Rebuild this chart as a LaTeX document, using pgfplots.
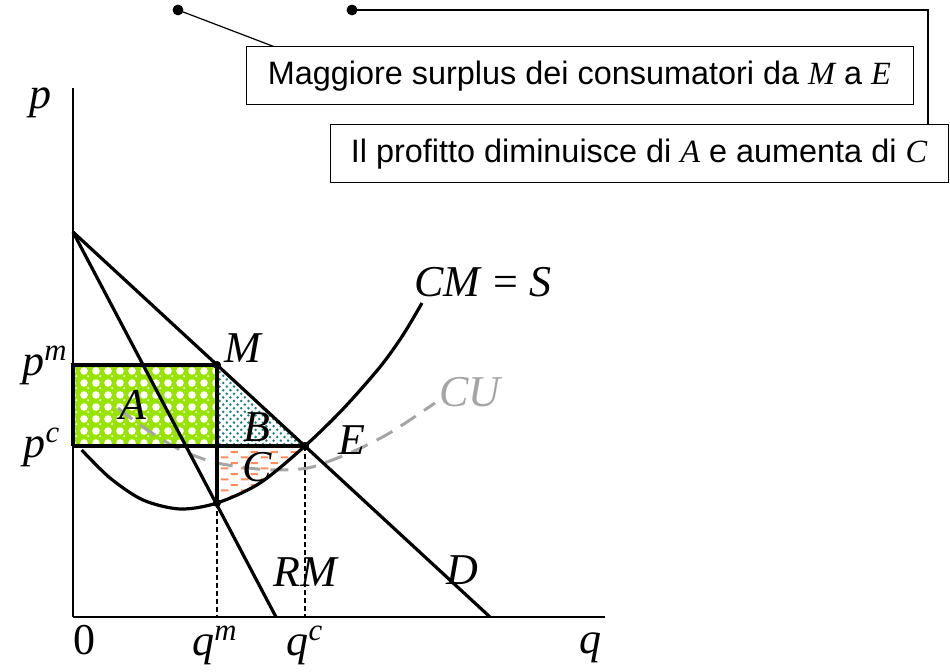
\documentclass[border=0pt]{standalone}
\usepackage{pgfplots}
\pgfplotsset{compat=1.18}
\usepgfplotslibrary{fillbetween}
\usetikzlibrary{patterns}
\usepackage{fontspec}
\setmainfont{Liberation Serif}
\newfontfamily\sansf{Liberation Sans}
\definecolor{agreen}{RGB}{150,228,0}
\definecolor{tealc}{RGB}{30,130,130}
\definecolor{orangec}{RGB}{255,140,90}
\definecolor{cugray}{RGB}{165,165,165}
\pgfdeclarepatternformonly{gaps}{\pgfqpoint{-2pt}{-2pt}}{\pgfqpoint{2pt}{2pt}}{\pgfqpoint{6pt}{6pt}}{\pgfpathcircle{\pgfpointorigin}{1.9pt}\pgfusepath{fill}}
\pgfdeclarepatternformonly{hl}{\pgfqpoint{0pt}{0pt}}{\pgfqpoint{6pt}{6pt}}{\pgfqpoint{6pt}{6pt}}{\pgfpathcircle{\pgfqpoint{2.3pt}{3.7pt}}{0.7pt}\pgfusepath{fill}}
\pgfdeclarepatternformonly{tdots}{\pgfqpoint{-0.8pt}{-0.8pt}}{\pgfqpoint{2.6pt}{2.6pt}}{\pgfqpoint{3.6pt}{3.6pt}}{\pgfpathcircle{\pgfpointorigin}{0.7pt}\pgfpathcircle{\pgfqpoint{1.8pt}{1.8pt}}{0.7pt}\pgfusepath{fill}}
\pgfdeclarepatternformonly{hdash}{\pgfpointorigin}{\pgfqpoint{10pt}{5.6pt}}{\pgfqpoint{10pt}{5.6pt}}{\pgfsetlinewidth{1.1pt}\pgfpathmoveto{\pgfqpoint{0.5pt}{1.4pt}}\pgfpathlineto{\pgfqpoint{4.3pt}{1.4pt}}\pgfpathmoveto{\pgfqpoint{5.5pt}{4.2pt}}\pgfpathlineto{\pgfqpoint{9.3pt}{4.2pt}}\pgfusepath{stroke}}
\newcommand{\lab}{\fontsize{22}{26}\selectfont}
\begin{document}
\begin{tikzpicture}
\begin{axis}[at={(0pt,0pt)}, anchor=south west, scale only axis,
  width=266pt, height=264.5pt, xmin=0, xmax=532, ymin=0, ymax=529,
  axis lines=left, axis line style={line width=1pt,-},
  xtick=\empty, ytick=\empty, clip=false]
% area A
\addplot[draw=none, fill=agreen] coordinates {(0,171) (144,171) (144,252) (0,252)} --cycle;
\addplot[draw=none, pattern=gaps, pattern color=white] coordinates {(0,171) (144,171) (144,252) (0,252)} --cycle;
\addplot[draw=none, pattern=hl, pattern color=white!80!agreen] coordinates {(0,171) (144,171) (144,252) (0,252)} --cycle;
% area B
\addplot[draw=none, pattern=tdots, pattern color=tealc] coordinates {(144,252) (144,171) (232,171)} --cycle;
% area C
\addplot[name path=mcA, draw=none, smooth] coordinates {(8.7,167) (37,139) (70,117) (107,108) (144,114) (187,134) (232,171) (270,208) (307,250) (330,282) (349,314)};
\addplot[name path=pcA, draw=none] coordinates {(144,171) (232,171)};
\addplot[draw=none, pattern=hdash, pattern color=orangec] fill between[of=mcA and pcA, soft clip={domain=144:232}];
% CU
\addplot[smooth, line width=1.5pt, color=cugray, dash pattern=on 9pt off 5pt] coordinates {(45,209) (67,192) (90,177) (110,166) (140,155) (175,149) (205,147) (235,149) (262,158) (290,170) (320,186) (362,214)};
% demand, RM, MC
\addplot[black, line width=1.6pt] coordinates {(0,385) (417,0)};
\addplot[black, line width=1.6pt] coordinates {(0,385) (203,0)};
\addplot[black, line width=1.6pt, smooth] coordinates {(8.7,167) (37,139) (70,117) (107,108) (144,114) (187,134) (232,171) (270,208) (307,250) (330,282) (349,314)};
% rectangle and price lines
\addplot[black, line width=1.6pt] coordinates {(0,171) (0,252) (144,252)};
\addplot[black, line width=1.6pt] coordinates {(0,171) (232,171)};
\addplot[black, line width=1.6pt] coordinates {(144,252) (144,114)};
\addplot[black, line width=0.6pt, dash pattern=on 2.5pt off 1.5pt] coordinates {(144,114) (144,0)};
\addplot[black, line width=0.6pt, dash pattern=on 2.5pt off 1.5pt] coordinates {(232,171) (232,0)};
\addplot[only marks, mark=*, mark size=1.8pt, black] coordinates {(144,252) (232,171) (144,114)};
% callouts
\addplot[black, line width=0.6pt] coordinates {(105,607) (202,570)};
\addplot[black, line width=1pt] coordinates {(279,607) (855,607) (855,492)};
\addplot[only marks, mark=*, mark size=2.5pt, black] coordinates {(105,607) (279,607)};
\node[draw, line width=0.5pt, fill=white, minimum width=333.5pt, minimum height=29pt, inner sep=0pt, font=\sansf\fontsize{16.2}{19}\selectfont] at (axis cs:506.5,541) {Maggiore surplus dei consumatori da {\rmfamily\itshape M} a {\rmfamily\itshape E}};
\node[draw, line width=0.5pt, fill=white, minimum width=309pt, minimum height=29pt, inner sep=0pt, font=\sansf\fontsize{16.2}{19}\selectfont] at (axis cs:566,463) {Il profitto diminuisce di {\rmfamily\itshape A} e aumenta di {\rmfamily\itshape C}};
% labels
\begin{scope}[every node/.style={inner sep=0pt}]
\node[font=\lab\itshape] at (axis cs:-33,514) {p};
\node[font=\lab\itshape] at (axis cs:-28,252) {p\textsuperscript{m}};
\node[font=\lab\itshape] at (axis cs:-31,170) {p\textsuperscript{c}};
\node[font=\lab] at (axis cs:12,-23) {0};
\node[font=\lab\itshape] at (axis cs:142,-28) {q\textsuperscript{m}};
\node[font=\lab\itshape] at (axis cs:232,-28) {q\textsuperscript{c}};
\node[font=\lab\itshape] at (axis cs:517,-31) {q};
\node[font=\lab\itshape] at (axis cs:170,269) {M};
\node[font=\lab\itshape] at (axis cs:60,212) {A};
\node[font=\lab\itshape] at (axis cs:184,190) {B};
\node[font=\lab\itshape] at (axis cs:184,150) {C};
\node[font=\lab\itshape] at (axis cs:279,177) {E};
\node[font=\lab\itshape] at (axis cs:232,45) {RM};
\node[font=\lab\itshape] at (axis cs:389,47) {D};
\node[font=\lab] at (axis cs:410,335) {\textit{CM} = \textit{S}};
\node[font=\lab\itshape, text=cugray] at (axis cs:397,225) {CU};
\end{scope}
\end{axis}
\path (-36.5pt,-27pt) rectangle (438.5pt,308.5pt);
\end{tikzpicture}
\end{document}
